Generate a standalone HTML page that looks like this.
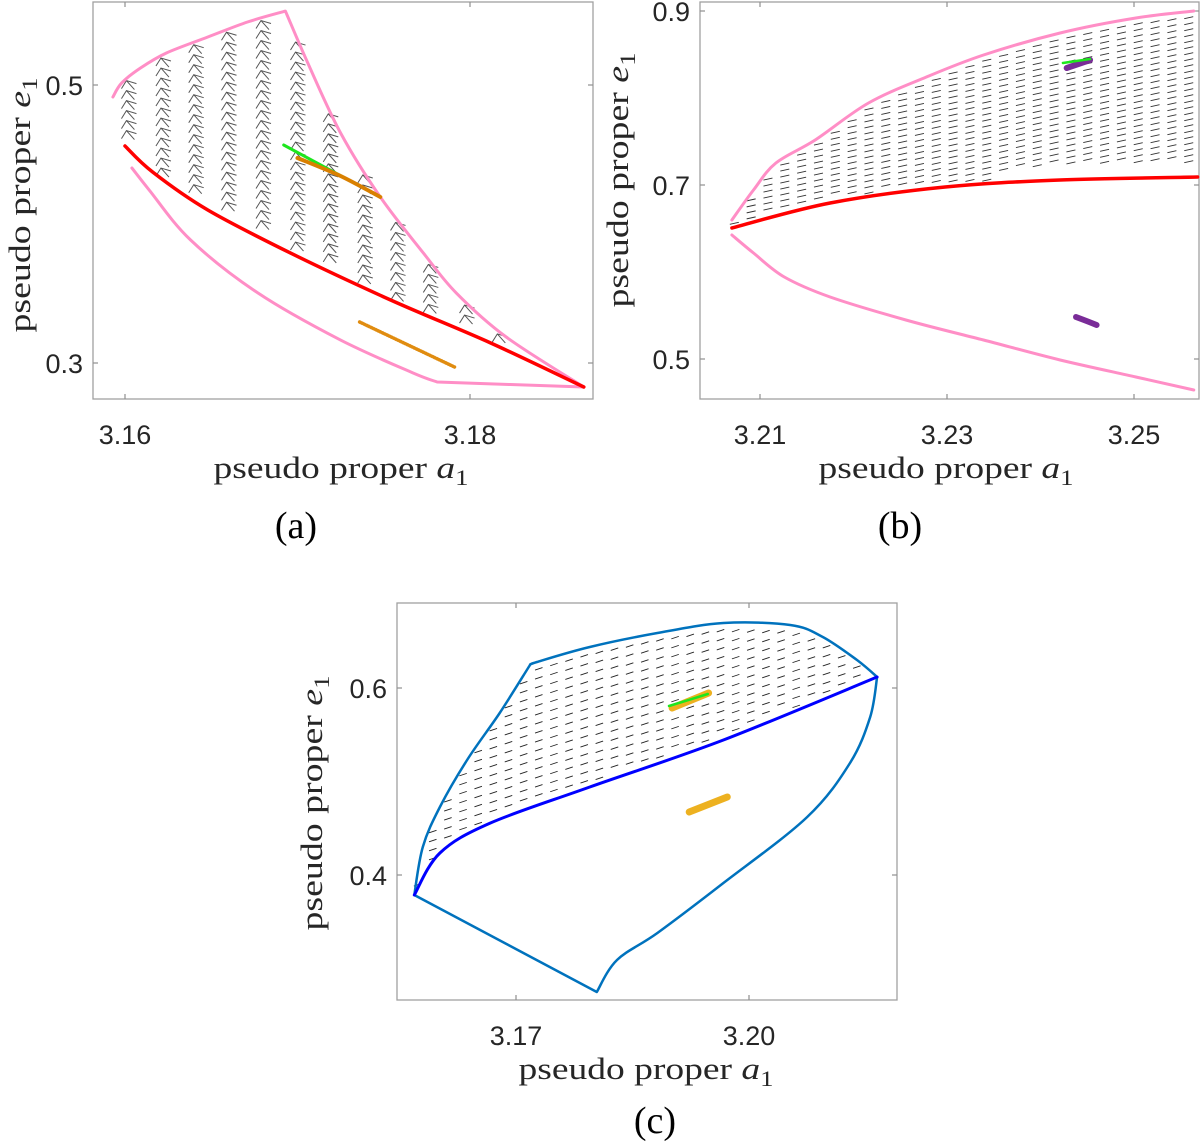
<!DOCTYPE html>
<html><head><meta charset="utf-8">
<style>
html,body{margin:0;padding:0;background:#fff;}
svg{display:block;}
.tick{font-family:"Liberation Sans",sans-serif;font-size:27px;fill:#262626;}
.ttl{font-family:"Liberation Serif",serif;font-size:31px;fill:#262626;}
.cap{font-family:"Liberation Serif",serif;font-size:38px;fill:#000;}
</style></head>
<body>
<svg id="fig" width="1200" height="1143" viewBox="0 0 1200 1143" xmlns="http://www.w3.org/2000/svg">
<g id="pa"></g>
<g id="pb"></g>
<g id="pc"></g>
</svg>
<script>
// ---------- Panel (a) data ----------
const aXTicks = [3.16, 3.18];
const aYTicks = [0.3, 0.5];
const aXTickLabels = ["3.16", "3.18"];
const aYTickLabels = ["0.3", "0.5"];
const aUpperA = [3.1593,3.1598,3.1609,3.1624,3.1648,3.1671,3.1693,3.1706,3.1725,3.1748,3.1773,3.1792,3.1821,3.1866];
const aUpperE = [0.4914,0.5014,0.5122,0.523,0.5345,0.5453,0.5532,0.5158,0.4655,0.4194,0.3791,0.3504,0.3187,0.2827];
const aLowerA = [3.1604,3.1614,3.1638,3.1677,3.1725,3.1767,3.1781,3.1866];
const aLowerE = [0.4403,0.4245,0.3885,0.3504,0.3165,0.2928,0.2863,0.2827];
const aRedA = [3.16,3.1616,3.1648,3.1696,3.1754,3.1812,3.1866];
const aRedE = [0.4561,0.4374,0.4101,0.3791,0.3453,0.3144,0.2827];
const aGreenA = [3.1692,3.1748];
const aGreenE = [0.4568,0.4194];
const aOrangeA = [3.17,3.1725,3.1748];
const aOrangeE = [0.4475,0.4345,0.4194];
const aOrange2A = [3.1736,3.1791];
const aOrange2E = [0.3295,0.2971];
const aFieldCols = [3.1602,3.1622,3.1641,3.166,3.168,3.17,3.1719,3.1739,3.1758,3.1777,3.1798,3.1817,3.1837];

// ---------- Panel (b) data ----------
const bXTicks = [3.21, 3.23, 3.25];
const bYTicks = [0.5, 0.7, 0.9];
const bXTickLabels = ["3.21", "3.23", "3.25"];
const bYTickLabels = ["0.5", "0.7", "0.9"];
const bUpperA = [3.207,3.2093,3.2117,3.2159,3.2216,3.2278,3.2339,3.2421,3.2502,3.2564];
const bUpperE = [0.6598,0.6943,0.7253,0.7517,0.7943,0.8241,0.8494,0.8747,0.892,0.9];
const bRedA = [3.207,3.2175,3.2298,3.2421,3.2568];
const bRedE = [0.6506,0.6793,0.6977,0.7057,0.7092];
const bLowerA = [3.207,3.2093,3.2126,3.2175,3.2256,3.2339,3.2421,3.2502,3.2564];
const bLowerE = [0.6425,0.6218,0.5943,0.5713,0.5448,0.5218,0.4989,0.4793,0.4644];
const bGreenA = [3.2424,3.2453];
const bGreenE = [0.8402,0.8448];
const bPurple1A = [3.2428,3.2453];
const bPurple1E = [0.8345,0.8437];
const bPurple2A = [3.2438,3.246];
const bPurple2E = [0.5483,0.5391];

// ---------- Panel (c) data ----------
const cXTicks = [3.17, 3.20];
const cYTicks = [0.4, 0.6];
const cXTickLabels = ["3.17", "3.20"];
const cYTickLabels = ["0.4", "0.6"];
const cOuterA = [3.1569,3.158,3.1602,3.1637,3.1679,3.1718,3.1727,3.1795,3.1882,3.1967,3.2053,3.2095,3.2139,3.2165,3.2156,3.213,3.2075,3.1967,3.1882,3.183,3.1804,3.1569];
const cOuterE = [0.3786,0.43,0.4727,0.523,0.5733,0.6246,0.6278,0.6439,0.6588,0.6695,0.6674,0.6545,0.6299,0.6118,0.569,0.5198,0.462,0.3914,0.338,0.3091,0.2749,0.3786];
const cInnerA = [3.1569,3.1602,3.1667,3.1795,3.1967,3.2165];
const cInnerE = [0.3786,0.4235,0.4556,0.4941,0.5444,0.6118];
const cGreenA = [3.1897,3.1947];
const cGreenE = [0.5807,0.5936];
const cOrangeA = [3.1901,3.1948];
const cOrangeE = [0.5786,0.5947];
const cOrange2A = [3.1923,3.1972];
const cOrange2E = [0.4674,0.4834];

const NS = "http://www.w3.org/2000/svg";
function mk(parent, tag, attrs, name, txt){
  const el = document.createElementNS(NS, tag);
  for (const k in attrs) el.setAttribute(k, attrs[k]);
  
  
  if (txt !== undefined) el.textContent = txt;
  parent.appendChild(el);
  return el;
}
function lin(d0,d1,p0,p1){ return v => p0 + (v-d0)*(p1-p0)/(d1-d0); }
// smooth path (Catmull-Rom), corners at given indices
function smoothD(A,E,sx,sy,corners){
  const P=A.map((a,i)=>[sx(a),sy(E[i])]);
  corners=corners||[];
  let d='M'+P[0][0].toFixed(1)+' '+P[0][1].toFixed(1);
  for(let i=0;i<P.length-1;i++){
    const p1=P[i], p2=P[i+1];
    const p0=(i>0 && !corners.includes(i))?P[i-1]:p1;
    const p3=(i+2<P.length && !corners.includes(i+1))?P[i+2]:p2;
    const c1=[p1[0]+(p2[0]-p0[0])/6, p1[1]+(p2[1]-p0[1])/6];
    const c2=[p2[0]-(p3[0]-p1[0])/6, p2[1]-(p3[1]-p1[1])/6];
    d+=` C${c1[0].toFixed(1)} ${c1[1].toFixed(1)} ${c2[0].toFixed(1)} ${c2[1].toFixed(1)} ${p2[0].toFixed(1)} ${p2[1].toFixed(1)}`;
  }
  return d;
}
function interp(A,E,a){
  for(let i=0;i<A.length-1;i++){
    if((a>=A[i]&&a<=A[i+1])) { const t=(a-A[i])/(A[i+1]-A[i]); return E[i]+t*(E[i+1]-E[i]); }
  }
  return null;
}
function line(g,A,E,sx,sy,color,w,name,extra,corners){
  return mk(g,'path',Object.assign({d:smoothD(A,E,sx,sy,corners),fill:'none',stroke:color,'stroke-width':w,'stroke-linecap':'round','stroke-linejoin':'round'},extra||{}),name);
}
function axes(g,box,sx,sy,xt,xtl,yt,ytl,xlabelPos,ylabelPos,cap){
  mk(g,'rect',{x:box[0],y:box[1],width:box[2]-box[0],height:box[3]-box[1],fill:'none',stroke:'#a0a0a0','stroke-width':1.3},'axes-box');
  xt.forEach((v,i)=>{
    const x=sx(v);
    mk(g,'line',{x1:x,y1:box[3],x2:x,y2:box[3]-5,stroke:'#909090','stroke-width':1.2},'x-tick');
    mk(g,'line',{x1:x,y1:box[1],x2:x,y2:box[1]+5,stroke:'#909090','stroke-width':1.2},'x-tick-top');
    mk(g,'text',{x:x,y:box[3]+45,'text-anchor':'middle',class:'tick'},'x-tick-label',xtl[i]);
  });
  yt.forEach((v,i)=>{
    const y=sy(v);
    mk(g,'line',{x1:box[0],y1:y,x2:box[0]+5,y2:y,stroke:'#909090','stroke-width':1.2},'y-tick');
    mk(g,'line',{x1:box[2],y1:y,x2:box[2]-5,y2:y,stroke:'#909090','stroke-width':1.2},'y-tick-right');
    mk(g,'text',{x:box[0]-10,y:y+10,'text-anchor':'end',class:'tick'},'y-tick-label',ytl[i]);
  });
  const xl = mk(g,'text',{x:xlabelPos[0],y:xlabelPos[1],'text-anchor':'middle',class:'ttl',textLength:255,lengthAdjust:'spacingAndGlyphs'},'x-axis-title');
  xl.innerHTML = 'pseudo proper <tspan font-style="italic">a</tspan><tspan font-size="22" dy="7">1</tspan>';
  const yl = mk(g,'text',{x:0,y:0,'text-anchor':'middle',class:'ttl',textLength:255,lengthAdjust:'spacingAndGlyphs',transform:`translate(${ylabelPos[0]},${ylabelPos[1]}) rotate(-90)`},'y-axis-title');
  yl.innerHTML = 'pseudo proper <tspan font-style="italic">e</tspan><tspan font-size="22" dy="7">1</tspan>';
  mk(g,'text',{x:cap[0],y:cap[1],'text-anchor':'middle',class:'cap'},'panel-caption',cap[2]);
}

// ===== Panel a =====
(function(){
  const g=document.getElementById('pa');
  const sx=lin(3.16,3.18,125,470), sy=lin(0.3,0.5,363,85);
  axes(g,[93,2,593,399],sx,sy,aXTicks,aXTickLabels,aYTicks,aYTickLabels,[341,478],[30,205],[296,538,'(a)']);
  const fg=mk(g,'g',{stroke:'#555',fill:'none','stroke-width':1},'direction-field');
  aFieldCols.forEach(a=>{
    const up=interp(aUpperA,aUpperE,a), lo=interp(aRedA,aRedE,a);
    if(up===null||lo===null) return;
    const x=sx(a);
    for(let py=sy(up)+7; py<sy(lo)-6; py+=10){
      const el=document.createElementNS(NS,'path');
      el.setAttribute('d',`M${x-7} ${py+4} L${x-2} ${py-4} L${x+8} ${py-1} M${x-2} ${py-4} L${x+6} ${py+5}`);
      
      
      fg.appendChild(el);
    }
  });
  line(g,aLowerA,aLowerE,sx,sy,'#ff8ec6',3,'lower-boundary',null,[6]);
  line(g,aUpperA,aUpperE,sx,sy,'#ff8ec6',3,'upper-boundary',null,[6]);
  line(g,aRedA,aRedE,sx,sy,'#ff0000',3.5,'red-curve');
  line(g,aGreenA,aGreenE,sx,sy,'#1ee61e',3,'green-trajectory');
  line(g,aOrangeA,aOrangeE,sx,sy,'#d98000',4,'orange-trajectory');
  line(g,aOrange2A,aOrange2E,sx,sy,'#e08c10',3.5,'orange-trajectory-lower',{'stroke-dasharray':'1 1.5'});
})();

// ===== Panel b =====
(function(){
  const g=document.getElementById('pb');
  const sx=lin(3.21,3.25,760,1134), sy=lin(0.5,0.9,359,11);
  axes(g,[700,2,1199,399],sx,sy,bXTicks,bXTickLabels,bYTicks,bYTickLabels,[946,478],[628,180],[900,538,'(b)']);
  const fg=mk(g,'g',{stroke:'#333',fill:'none','stroke-width':0.9},'direction-field');
  for(let a=3.2072;a<3.2562;a+=0.0018){
    const up=interp(bUpperA,bUpperE,a), lo=interp(bRedA,bRedE,a);
    if(up===null||lo===null) continue;
    const x=sx(a);
    const lim = sy(lo) - (a>3.235 ? 14 : 4);
    for(let py=sy(up)+6; py<lim; py+=6){
      const el=document.createElementNS(NS,'line');
      el.setAttribute('x1',x-4);el.setAttribute('y1',py+1);el.setAttribute('x2',x+5);el.setAttribute('y2',py-1);
      
      
      fg.appendChild(el);
    }
  }
  line(g,bUpperA,bUpperE,sx,sy,'#ff8ec6',3,'upper-boundary');
  line(g,bLowerA,bLowerE,sx,sy,'#ff8ec6',3,'lower-boundary');
  line(g,bRedA,bRedE,sx,sy,'#ff0000',3.5,'red-curve');
  line(g,bPurple1A,bPurple1E,sx,sy,'#7a2c98',6,'purple-trajectory-upper');
  line(g,bGreenA,bGreenE,sx,sy,'#1ee61e',2.5,'green-trajectory');
  line(g,bPurple2A,bPurple2E,sx,sy,'#7a2c98',6,'purple-trajectory-lower');
})();

// ===== Panel c =====
(function(){
  const g=document.getElementById('pc');
  const sx=lin(3.17,3.20,516,749), sy=lin(0.4,0.6,875,688);
  axes(g,[397,603,897,1000],sx,sy,cXTicks,cXTickLabels,cYTicks,cYTickLabels,[646,1079],[322,803],[655,1133,'(c)']);
  const upA=cOuterA.slice(0,14), upE=cOuterE.slice(0,14);
  const fg=mk(g,'g',{stroke:'#222',fill:'none','stroke-width':0.9},'direction-field');
  for(let a=3.1573;a<3.2155;a+=0.00195){
    const up=interp(upA,upE,a), lo=interp(cInnerA,cInnerE,a);
    if(up===null||lo===null) continue;
    const x=sx(a);
    for(let py=sy(up)+7; py<sy(lo)-4; py+=9){
      const el=document.createElementNS(NS,'line');
      el.setAttribute('x1',x-3.5);el.setAttribute('y1',py+1.5);el.setAttribute('x2',x+4);el.setAttribute('y2',py-1);
      
      
      fg.appendChild(el);
    }
  }
  line(g,cOuterA,cOuterE,sx,sy,'#0072bd',2.5,'outer-boundary',null,[5,13,20]);
  line(g,cInnerA,cInnerE,sx,sy,'#0000ff',3,'inner-curve');
  line(g,cOrangeA,cOrangeE,sx,sy,'#edb120',7,'orange-trajectory');
  line(g,cGreenA,cGreenE,sx,sy,'#1ee61e',2.5,'green-trajectory');
  line(g,cOrange2A,cOrange2E,sx,sy,'#edb120',7,'orange-trajectory-lower');
})();
</script>
</body></html>
